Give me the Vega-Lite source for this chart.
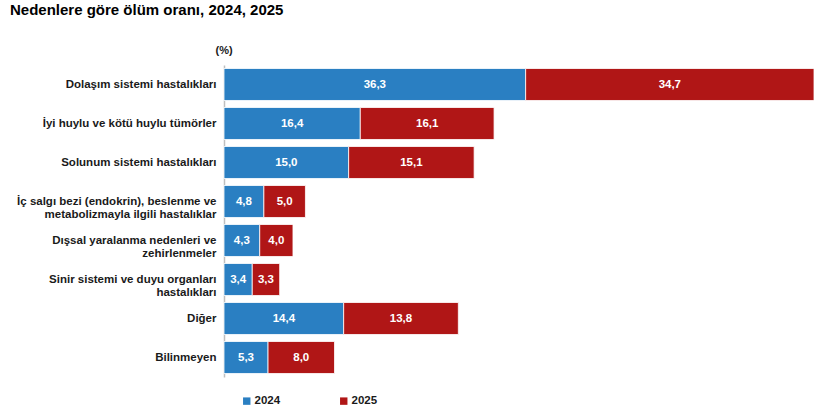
{
  "$schema": "https://vega.github.io/schema/vega-lite/v6.json",
  "autosize": {"type": "none"},
  "padding": {"left": 224, "top": 65, "right": 6, "bottom": 43},
  "width": 590,
  "height": 312,
  "background": "white",
  "title": {
    "text": "Nedenlere göre ölüm oranı, 2024, 2025",
    "anchor": "start",
    "frame": "group",
    "dx": -214,
    "dy": -26,
    "offset": 0,
    "font": "Liberation Sans",
    "fontSize": 15,
    "fontWeight": "bold",
    "color": "#000000"
  },
  "config": {
    "locale": {"number": {"decimal": ",", "thousands": ".", "grouping": [3], "currency": ["", " TL"]}},
    "view": {"stroke": null},
    "font": "Liberation Sans"
  },
  "data": {
    "values": [
      {"neden": "Dolaşım sistemi hastalıkları", "yil": "2024", "oran": 36.3},
      {"neden": "Dolaşım sistemi hastalıkları", "yil": "2025", "oran": 34.7},
      {"neden": "İyi huylu ve kötü huylu tümörler", "yil": "2024", "oran": 16.4},
      {"neden": "İyi huylu ve kötü huylu tümörler", "yil": "2025", "oran": 16.1},
      {"neden": "Solunum sistemi hastalıkları", "yil": "2024", "oran": 15.0},
      {"neden": "Solunum sistemi hastalıkları", "yil": "2025", "oran": 15.1},
      {"neden": "İç salgı bezi (endokrin), beslenme ve|metabolizmayla ilgili hastalıklar", "yil": "2024", "oran": 4.8},
      {"neden": "İç salgı bezi (endokrin), beslenme ve|metabolizmayla ilgili hastalıklar", "yil": "2025", "oran": 5.0},
      {"neden": "Dışsal yaralanma nedenleri ve|zehirlenmeler", "yil": "2024", "oran": 4.3},
      {"neden": "Dışsal yaralanma nedenleri ve|zehirlenmeler", "yil": "2025", "oran": 4.0},
      {"neden": "Sinir sistemi ve duyu organları|hastalıkları", "yil": "2024", "oran": 3.4},
      {"neden": "Sinir sistemi ve duyu organları|hastalıkları", "yil": "2025", "oran": 3.3},
      {"neden": "Diğer", "yil": "2024", "oran": 14.4},
      {"neden": "Diğer", "yil": "2025", "oran": 13.8},
      {"neden": "Bilinmeyen", "yil": "2024", "oran": 5.3},
      {"neden": "Bilinmeyen", "yil": "2025", "oran": 8.0}
    ]
  },
  "transform": [
    {"stack": "oran", "groupby": ["neden"], "sort": [{"field": "yil", "order": "ascending"}], "as": ["bas", "son"]},
    {"calculate": "(datum.bas + datum.son) / 2", "as": "orta"}
  ],
  "encoding": {
    "y": {
      "field": "neden",
      "type": "nominal",
      "sort": null,
      "scale": {"paddingInner": 0.18, "paddingOuter": 0.09},
      "axis": {
        "title": null,
        "ticks": false,
        "domainColor": "#BFBFBF",
        "domainWidth": 1.5,
        "labelPadding": 8,
        "labelExpr": "split(datum.label, '|')",
        "labelLineHeight": 13,
        "labelFont": "Liberation Sans",
        "labelFontSize": 11.5,
        "labelFontWeight": "bold",
        "labelColor": "#1a1a1a",
        "labelLimit": 220
      }
    }
  },
  "layer": [
    {
      "mark": {"type": "bar", "stroke": "white", "strokeWidth": 0.8},
      "encoding": {
        "x": {
          "field": "bas",
          "type": "quantitative",
          "scale": {"domain": [0, 71], "nice": false},
          "axis": {
            "orient": "top",
            "title": "(%)",
            "titleAnchor": "start",
            "titleX": -9,
            "titleY": -10,
            "titleFont": "Liberation Sans",
            "titleFontSize": 11,
            "titleFontWeight": "bold",
            "titleColor": "#1a1a1a",
            "domain": false,
            "ticks": false,
            "labels": false,
            "grid": false
          }
        },
        "x2": {"field": "son"},
        "color": {
          "field": "yil",
          "type": "nominal",
          "title": null,
          "scale": {"domain": ["2024", "2025"], "range": ["#2A7FC2", "#B01616"]},
          "legend": {
            "orient": "none",
            "direction": "horizontal",
            "legendX": 17,
            "legendY": 330,
            "symbolType": "square",
            "symbolSize": 55,
            "symbolStrokeWidth": 0,
            "labelFont": "Liberation Sans",
            "labelFontSize": 11.5,
            "labelFontWeight": "bold",
            "labelColor": "#1a1a1a",
            "labelOffset": 2,
            "columnPadding": 57
          }
        }
      }
    },
    {
      "mark": {"type": "text", "color": "white", "font": "Liberation Sans", "fontSize": 11.5, "fontWeight": "bold", "baseline": "middle", "align": "center"},
      "encoding": {
        "x": {"field": "orta", "type": "quantitative"},
        "text": {"field": "oran", "type": "quantitative", "format": ".1f"}
      }
    }
  ]
}
